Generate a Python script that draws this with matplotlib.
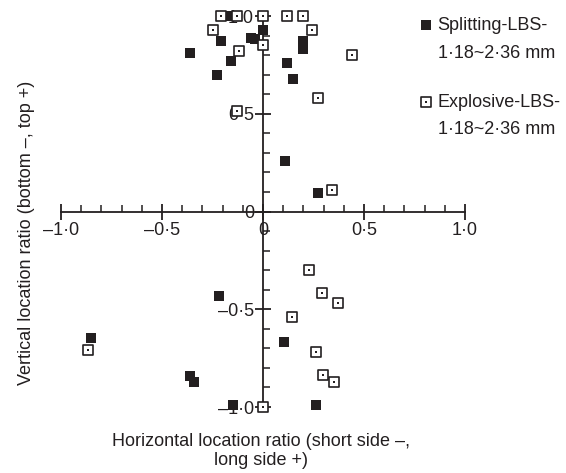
import matplotlib
matplotlib.use("Agg")
import matplotlib.pyplot as plt
from matplotlib.ticker import MultipleLocator, FixedLocator, FixedFormatter
from matplotlib.legend_handler import HandlerTuple

# Splitting-LBS 1.18-2.36 mm (filled squares)
split_x = [-0.17, 0.0, -0.06, -0.04, -0.21, 0.20, 0.20, -0.36, -0.16, 0.12,
           -0.23, 0.15, 0.11, 0.27, -0.22, 0.105, -0.85, -0.36, -0.34, -0.15, 0.26]
split_y = [1.0, 0.93, 0.89, 0.88, 0.87, 0.87, 0.83, 0.81, 0.77, 0.76,
           0.70, 0.68, 0.26, 0.095, -0.43, -0.67, -0.645, -0.84, -0.87, -0.99, -0.99]

# Explosive-LBS 1.18-2.36 mm (open squares with dot)
expl_x = [-0.21, -0.13, 0.0, 0.12, 0.20, -0.25, 0.245, 0.0, -0.12, 0.44,
          0.27, -0.13, 0.34, 0.23, 0.29, 0.37, 0.145, 0.26, -0.865, 0.295, 0.35, 0.0]
expl_y = [1.0, 1.0, 1.0, 1.0, 1.0, 0.93, 0.93, 0.85, 0.82, 0.80,
          0.58, 0.515, 0.11, -0.30, -0.415, -0.47, -0.54, -0.72, -0.71, -0.835, -0.87, -1.0]

major_ticks = [-1.0, -0.5, 0.0, 0.5, 1.0]
x_tick_labels = ["\u20131\u00b70", "\u20130\u00b75", "0", "0\u00b75", "1\u00b70"]
y_tick_labels = ["\u20131\u00b70", "\u20130\u00b75", "0", "0\u00b75", "1\u00b70"]
series_names = ["Splitting-LBS-", "Explosive-LBS-"]
size_range = "1\u00b718~2\u00b736 mm"

ink = "#231f20"
plt.rcParams["font.family"] = ["Liberation Sans", "DejaVu Sans"]
plt.rcParams["font.size"] = 13

W, H = 566, 473
fig = plt.figure(figsize=(W / 100, H / 100), dpi=100)
ax = fig.add_axes([61 / W, (H - 407) / H, 404 / W, 391 / H])
ax.set_xlim(-1, 1)
ax.set_ylim(-1, 1)

# axes crossing at origin
for side in ["top", "right"]:
    ax.spines[side].set_visible(False)
for side in ["left", "bottom"]:
    ax.spines[side].set_position("zero")
    ax.spines[side].set_linewidth(1.3)
    ax.spines[side].set_color(ink)

ax.xaxis.set_major_locator(FixedLocator(major_ticks))
ax.xaxis.set_major_formatter(FixedFormatter(x_tick_labels))
ax.yaxis.set_major_locator(FixedLocator(major_ticks))
ax.yaxis.set_major_formatter(FixedFormatter(y_tick_labels))
ax.xaxis.set_minor_locator(MultipleLocator(0.1))
ax.yaxis.set_minor_locator(MultipleLocator(0.1))
ax.tick_params(which="major", direction="inout", length=11, width=1.3,
               color=ink, labelcolor=ink, labelsize=13)
ax.tick_params(which="minor", direction="in", length=5, width=1.1, color=ink)
ax.tick_params(axis="x", which="major", pad=2)
ax.tick_params(axis="y", which="major", pad=1)

# data
h1 = ax.scatter(split_x, split_y, marker="s", s=58, color=ink, lw=0,
                zorder=4, clip_on=False)
h2 = ax.scatter(expl_x, expl_y, marker="s", s=48, facecolor="white",
                edgecolor=ink, lw=1.2, zorder=5, clip_on=False)
h3 = ax.scatter(expl_x, expl_y, marker="s", s=3, color=ink, lw=0,
                zorder=6, clip_on=False)

# legend: first line through legend, size range as second line below
leg = fig.legend([h1, (h2, h3)], series_names,
                 handler_map={tuple: HandlerTuple(ndivide=1)},
                 loc="upper left", bbox_to_anchor=(421 / W, 1 - 17 / H),
                 frameon=False, handlelength=0.6, handletextpad=0.3,
                 labelspacing=3.3, fontsize=13, markerscale=0.95,
                 borderaxespad=0, borderpad=0)
for t in leg.get_texts():
    t.set_color(ink)
for yy in [54, 129]:
    fig.text(438 / W, 1 - yy / H, size_range, ha="left", va="center",
             color=ink, fontsize=13)

fig.text(27 / W, 1 - 233 / H, "Vertical location ratio (bottom \u2013, top +)",
         rotation=90, ha="center", va="center", color=ink, fontsize=13)
fig.text(261 / W, 1 - 451 / H, "Horizontal location ratio (short side \u2013,\nlong side +)",
         ha="center", va="center", color=ink, fontsize=13, linespacing=1.2)

fig.savefig("out.png", dpi=100)
